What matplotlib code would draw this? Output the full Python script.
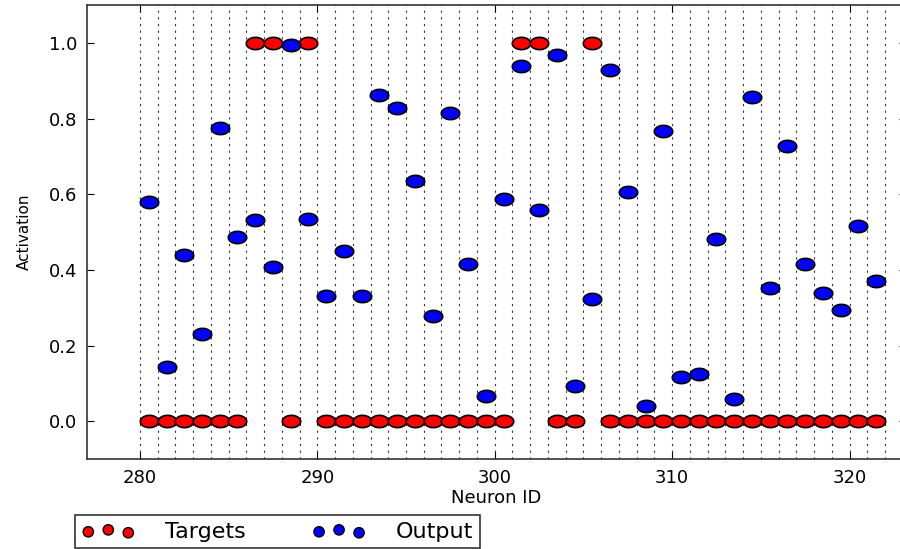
import numpy as np
import matplotlib.pyplot as plt
from matplotlib.path import Path

# neuron ids shown in this window
neuron_ids = list(range(280, 322))

# desired activations (0 = off, 1 = on)
targets = [0, 0, 0, 0, 0, 0, 1, 1, 0, 1,
           0, 0, 0, 0, 0, 0, 0, 0, 0, 0,
           0, 1, 1, 0, 0, 1, 0, 0, 0, 0,
           0, 0, 0, 0, 0, 0, 0, 0, 0, 0,
           0, 0]

# network output activations
output = [0.579, 0.143, 0.439, 0.230, 0.775, 0.487, 0.532, 0.407, 0.995, 0.534,
          0.331, 0.450, 0.331, 0.862, 0.828, 0.635, 0.278, 0.815, 0.415, 0.066,
          0.587, 0.939, 0.560, 0.968, 0.092, 0.322, 0.929, 0.607, 0.040, 0.769,
          0.118, 0.126, 0.481, 0.058, 0.857, 0.352, 0.728, 0.416, 0.339, 0.294,
          0.517, 0.370]

# wide oval marker
t = np.linspace(0, 2 * np.pi, 60)
oval = Path(np.column_stack([1.5 * np.cos(t), np.sin(t)]), closed=True)

x = np.array(neuron_ids) + 0.5

fig = plt.figure(figsize=(9, 5.49), dpi=100)
ax = fig.add_axes([0.0963, 0.164, 0.9107, 0.826])

for b in range(neuron_ids[0], neuron_ids[-1] + 2):
    ax.axvline(b, color='#333333', ls=(0, (2, 4)), lw=0.8, zorder=1)

ax.scatter(x, targets, marker=oval, s=175, c='r', edgecolors='k',
           linewidths=1.2, zorder=3)
ax.scatter(x, output, marker=oval, s=175, c='b', edgecolors='k',
           linewidths=1.2, zorder=4)

ax.set_xlim(277, 323.2)
ax.set_ylim(-0.1, 1.1)
ax.set_xticks([280, 290, 300, 310, 320])
ax.set_yticks([0.0, 0.2, 0.4, 0.6, 0.8, 1.0])
ax.tick_params(direction='in', top=True, right=True, length=5,
               labelsize=13, pad=7)
for s in ax.spines.values():
    s.set_color('#333333')
    s.set_linewidth(1.2)

ax.set_xlabel('Neuron ID', fontsize=13, labelpad=2)
ax.set_ylabel('Activation', fontsize=11, labelpad=12)

# legend entries
h1 = ax.scatter([], [], marker='o', s=55, c='r', edgecolors='k', linewidths=1)
h2 = ax.scatter([], [], marker='o', s=55, c='b', edgecolors='k', linewidths=1)
leg = fig.legend([h1, h2], ['Targets', 'Output'], loc='upper left',
                 bbox_to_anchor=(0.0833, 0.062), borderaxespad=0,
                 ncol=2, scatterpoints=3,
                 scatteryoffsets=[0.375, 0.5, 0.3125],
                 fontsize=16, frameon=True, fancybox=False,
                 handlelength=2.4, handletextpad=1.35, columnspacing=3.0,
                 borderpad=0.3)
leg.get_frame().set_edgecolor('k')
leg.get_frame().set_linewidth(1.2)

fig.savefig('out.png', dpi=100)
